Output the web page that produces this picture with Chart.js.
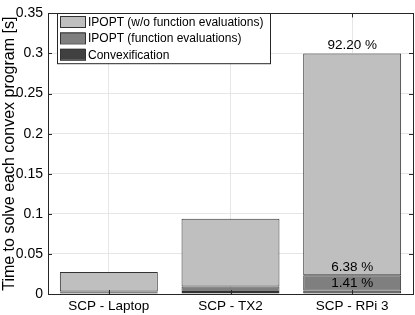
<!DOCTYPE html>
<html>
<head>
<meta charset="utf-8">
<script src="https://cdn.jsdelivr.net/npm/chart.js@4"></script>
<style>
  html, body { margin: 0; padding: 0; background: #fff; }
  #wrap { width: 415px; height: 315px; }
</style>
</head>
<body>
<div id="wrap"><canvas id="chart" width="415" height="315"></canvas></div>
<script>
const categories = ['SCP - Laptop', 'SCP - TX2', 'SCP - RPi 3'];
const convexification = [0.0015, 0.0024, 0.00424];
const ipoptFunc = [0.0016, 0.0069, 0.01915];
const ipoptNoFunc = [0.0244, 0.0847, 0.27661];
const yTicks = [0, 0.05, 0.1, 0.15, 0.2, 0.25, 0.3, 0.35];
const percentBar = 2; // only the RPi bar carries percentages

const fontFam = '"Liberation Sans", Arial, sans-serif';
const axisColor = '#262626';

// legend box drawn inside the plot, MATLAB style
const boxLegend = {
    id: 'boxLegend',
    afterDraw(chart){
        const ctx = chart.ctx;
        const sets = chart.data.datasets.slice().reverse();
        const x0 = 57, y0 = 13, w = 213, rowH = 16.4;
        const h = rowH * sets.length + 1;
        ctx.save();
        ctx.fillStyle = '#fff';
        ctx.fillRect(x0, y0, w, h);
        ctx.strokeStyle = axisColor;
        ctx.lineWidth = 1;
        ctx.strokeRect(x0 + 0.5, y0 + 0.5, w, h);
        ctx.font = '12px ' + fontFam;
        ctx.textBaseline = 'middle';
        sets.forEach((ds, i) => {
            const cy = y0 + 8.5 + i * rowH;
            ctx.fillStyle = ds.backgroundColor;
            ctx.fillRect(x0 + 3, cy - 5.5, 25, 11);
            ctx.strokeStyle = '#333';
            ctx.strokeRect(x0 + 3.5, cy - 5, 25, 11);
            ctx.fillStyle = '#000';
            ctx.fillText(ds.label, x0 + 31, cy + 1);
        });
        ctx.restore();
    }
};

// box around axes with inward ticks on all sides
const axesBox = {
    id: 'axesBox',
    afterDatasetsDraw(chart){
        const ctx = chart.ctx;
        const a = chart.chartArea;
        const ys = chart.scales.y, xs = chart.scales.x;
        ctx.save();
        ctx.strokeStyle = axisColor;
        ctx.lineWidth = 1;
        ctx.beginPath();
        yTicks.forEach(v => {
            const py = Math.round(ys.getPixelForValue(v)) + 0.5;
            ctx.moveTo(a.left, py); ctx.lineTo(a.left + 4, py);
            ctx.moveTo(a.right, py); ctx.lineTo(a.right - 4, py);
        });
        categories.forEach((c, i) => {
            const px = Math.round(xs.getPixelForValue(i)) + 0.5;
            ctx.moveTo(px, a.bottom); ctx.lineTo(px, a.bottom - 4);
            ctx.moveTo(px, a.top); ctx.lineTo(px, a.top + 4);
        });
        ctx.stroke();
        ctx.strokeRect(Math.round(a.left) + 0.5, Math.round(a.top) + 0.5,
            Math.round(a.right - a.left), Math.round(a.bottom - a.top));
        ctx.restore();
    }
};

// percentage of each segment, written just above the segment top
const percentLabels = {
    id: 'percentLabels',
    afterDatasetsDraw(chart){
        const ctx = chart.ctx;
        const sets = chart.data.datasets;
        let total = 0;
        sets.forEach(ds => total += ds.data[percentBar]);
        ctx.save();
        ctx.font = '13.5px ' + fontFam;
        ctx.fillStyle = '#000';
        ctx.textAlign = 'center';
        ctx.textBaseline = 'bottom';
        sets.forEach((ds, i) => {
            const bar = chart.getDatasetMeta(i).data[percentBar];
            const pct = (ds.data[percentBar] / total * 100).toFixed(2) + ' %';
            ctx.fillText(pct, bar.x, bar.y - 1);
        });
        ctx.restore();
    }
};

function getChart(){
    const ctx = document.getElementById('chart').getContext('2d');
    const common = { borderColor: '#333', borderWidth: 1, borderSkipped: false,
        categoryPercentage: 1, barPercentage: 0.805 };
    const chart = new Chart(ctx, {
        type: 'bar',
        data: {
            labels: categories,
            datasets: [
                Object.assign({ label: 'Convexification', backgroundColor: '#404040', data: convexification }, common),
                Object.assign({ label: 'IPOPT (function evaluations)', backgroundColor: '#7f7f7f', data: ipoptFunc }, common),
                Object.assign({ label: 'IPOPT (w/o function evaluations)', backgroundColor: '#bfbfbf', data: ipoptNoFunc }, common)
            ]
        },
        options: {
            responsive: false,
            animation: false,
            layout: { padding: { top: 4, right: 2, left: 0, bottom: 0 } },
            plugins: { legend: { display: false }, tooltip: { enabled: false } },
            scales: {
                x: {
                    stacked: true,
                    grid: { offset: false, color: '#e6e6e6', drawTicks: false },
                    border: { display: false },
                    ticks: { color: '#000', font: { family: fontFam, size: 13.5 }, padding: 4 },
                    afterFit(s){ s.height = 21; }
                },
                y: {
                    stacked: true,
                    min: 0, max: 0.35,
                    grid: { color: '#e6e6e6', drawTicks: false },
                    border: { display: false },
                    afterBuildTicks(s){ s.ticks = yTicks.map(v => ({ value: v })); },
                    ticks: { color: '#000', font: { family: fontFam, size: 14 }, padding: 5,
                        callback: v => String(+v.toFixed(2)) },
                    title: { display: true, text: 'Time to solve each convex program [s]',
                        color: '#000', font: { family: fontFam, size: 16 }, padding: 0 },
                    afterFit(s){ s.width = 48; }
                }
            }
        },
        plugins: [axesBox, percentLabels, boxLegend]
    });
}
getChart();
</script>
</body>
</html>
